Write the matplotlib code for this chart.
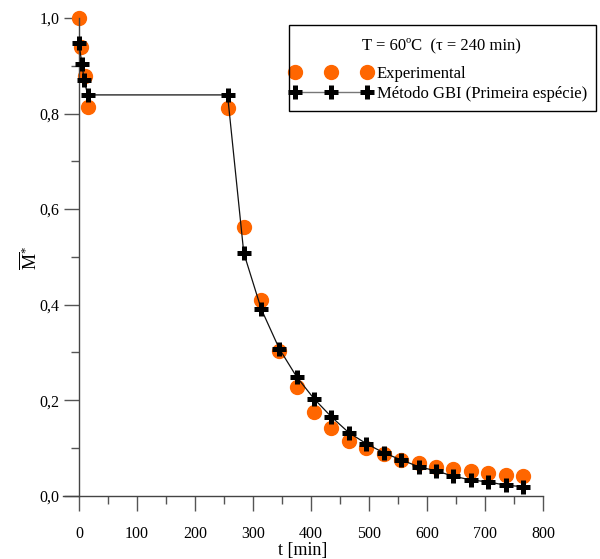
import matplotlib
matplotlib.use("Agg")
import matplotlib.pyplot as plt
from matplotlib.ticker import MultipleLocator, FuncFormatter
from matplotlib.lines import Line2D
from matplotlib.patches import Rectangle
from matplotlib.legend_handler import HandlerLine2D

plt.rcParams['font.family'] = ['Liberation Serif', 'DejaVu Serif']
plt.rcParams['mathtext.fontset'] = 'custom'
plt.rcParams['mathtext.rm'] = 'Liberation Serif'
plt.rcParams['mathtext.it'] = 'Liberation Serif:italic'

# Experimental data
t_exp = [0, 4, 11, 15, 256, 284, 314, 345, 375, 405, 435, 465, 495, 525, 555, 585, 615, 645, 675, 705, 735, 765]
m_exp = [1.0, 0.940, 0.879, 0.814, 0.811, 0.563, 0.410, 0.302, 0.227, 0.175, 0.142, 0.115, 0.100,
         0.088, 0.075, 0.069, 0.061, 0.056, 0.052, 0.048, 0.044, 0.042]

# GBI method (first species)
t_gbi = [0, 5, 9, 15, 256, 284, 314, 345, 375, 405, 435, 465, 495, 525, 555, 585, 615, 645, 675, 705, 735, 765]
m_gbi = [0.948, 0.904, 0.870, 0.839, 0.839, 0.508, 0.391, 0.308, 0.249, 0.203, 0.165, 0.132, 0.109,
         0.090, 0.075, 0.061, 0.052, 0.041, 0.033, 0.029, 0.022, 0.019]

x_ticks = [0, 100, 200, 300, 400, 500, 600, 700, 800]
y_ticks = [0.0, 0.2, 0.4, 0.6, 0.8, 1.0]

orange = '#FF6600'
W, H = 600, 559

fig = plt.figure(figsize=(6.0, 5.59), dpi=100)
ax = fig.add_axes([0.1045, 0.1132, 0.8010, 0.8546])

ax.plot(t_exp, m_exp, linestyle='none', marker='o', ms=10, color=orange, mec=orange,
        clip_on=False, zorder=2)
ax.plot(t_gbi, m_gbi, linestyle='-', lw=0.9, color='#111111', marker='+', ms=10,
        mec='black', mew=3.6, clip_on=False, zorder=3)

ax.set_xlim(-28, 800)
ax.set_ylim(0, 1.0)

for s in ['top', 'right']:
    ax.spines[s].set_visible(False)
ax.spines['left'].set_position(('data', 0))
ax.spines['left'].set_bounds(0, 1.0)
ax.spines['bottom'].set_bounds(-28, 800)
for s in ['left', 'bottom']:
    ax.spines[s].set_color('#444444')
    ax.spines[s].set_linewidth(1.0)

ax.set_xticks(x_ticks)
ax.set_yticks(y_ticks)
ax.xaxis.set_minor_locator(MultipleLocator(50))
ax.yaxis.set_minor_locator(MultipleLocator(0.1))
ax.yaxis.set_major_formatter(FuncFormatter(lambda v, p: f"{v:.1f}".replace('.', ',')))
ax.tick_params(axis='both', which='major', direction='out', length=11, width=1.0,
               color='#555555', labelsize=11.5)
ax.tick_params(axis='both', which='minor', direction='out', length=6, width=1.0, color='#555555')
ax.tick_params(axis='y', which='major', pad=3)
ax.tick_params(axis='x', which='major', pad=11)

ax.set_xlabel('t [min]', fontsize=13, labelpad=0)
fig.text(30 / W, 1 - 258 / H, r'$\overline{\mathrm{M}}^{*}$', rotation=90,
         fontsize=13, ha='center', va='center')

h_exp = Line2D([], [], linestyle='none', marker='o', ms=10, color=orange)
h_gbi = Line2D([], [], linestyle='-', lw=1.0, color='#777777', marker='+', ms=10,
               mec='black', mew=3.6)
leg = ax.legend([h_exp, h_gbi], ['Experimental', 'Método GBI (Primeira espécie)'],
                title='T = 60ºC  (τ = 240 min)', numpoints=3, handlelength=4.31,
                handletextpad=0.6, fontsize=12, title_fontsize=12, frameon=False,
                loc='upper left', bbox_to_anchor=(295 / W, 1 - 37 / H),
                bbox_transform=fig.transFigure, borderpad=0, labelspacing=0.28,
                borderaxespad=0,
                handler_map={Line2D: HandlerLine2D(marker_pad=0)})
leg._legend_box.sep = 9
fig.patches.append(Rectangle((289 / W, 1 - 111 / H), 307 / W, 86 / H, fill=False,
                             edgecolor='black', lw=1.0, transform=fig.transFigure,
                             figure=fig))

fig.savefig('out.png', dpi=100)
